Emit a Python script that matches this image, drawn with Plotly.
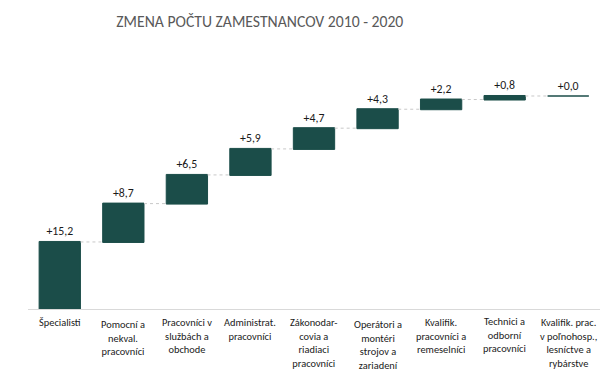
import plotly.graph_objects as go
import numpy as np

categories = ["Špecialisti", "Pomocní a<br>nekval.<br>pracovníci", "Pracovníci v<br>službách a<br>obchode",
              "Administrat.<br>pracovníci", "Zákonodar-<br>covia a<br>riadiaci<br>pracovníci",
              "Operátori a<br>montéri<br>strojov a<br>zariadení", "Kvalifik.<br>pracovníci a<br>remeselníci",
              "Technici a<br>odborní<br>pracovníci", "Kvalifik. prac.<br>v poľnohosp.,<br>lesníctve a<br>rybárstve"]
values = [15.2, 8.7, 6.5, 5.9, 4.7, 4.3, 2.2, 0.8, 0.0]
label_shift = [0, -2, 0, 0, 0, -2, 0, 1, 0]

FONT = "Carlito, Lato, sans-serif"
BAR_W = 0.65
COLOR = "#1B4D49"
x = list(range(len(values)))
labels = ["+" + f"{v:.1f}".replace(".", ",") for v in values]
cum = np.cumsum(values)

fig = go.Figure(go.Waterfall(
    x=x, y=values, measure=["relative"] * len(values),
    increasing=dict(marker=dict(color=COLOR, line=dict(color=COLOR, width=1))),
    connector=dict(line=dict(color="#C8C8C8", width=1, dash="dot")),
    text=labels, texttemplate="%{text}", textposition="outside",
    textfont=dict(family=FONT, size=11.8, color="#1a1a1a"),
    width=BAR_W, cliponaxis=False, hoverinfo="skip",
))

# zero-height bars are not drawn by plotly; draw them as thin lines
for i, v in enumerate(values):
    if v == 0:
        fig.add_trace(go.Scatter(x=[i - BAR_W / 2, i + BAR_W / 2], y=[cum[i], cum[i]], mode="lines",
                                 line=dict(color=COLOR, width=1.5), hoverinfo="skip"))

for i, (c, s) in enumerate(zip(categories, label_shift)):
    fig.add_annotation(x=i, y=0, xref="x", yref="y", text=c, showarrow=False,
                       yanchor="top", yshift=-5 + s, font=dict(family=FONT, size=10.4, color="#1a1a1a"))

fig.update_layout(
    width=607, height=372,
    margin=dict(l=28, r=7, t=60, b=63),
    paper_bgcolor="white", plot_bgcolor="white",
    showlegend=False,
    title=dict(text="ZMENA POČTU ZAMESTNANCOV 2010 - 2020", x=0.428, xanchor="center", y=0.942, yanchor="middle",
               font=dict(family=FONT, size=15.7, color="#595959")),
    xaxis=dict(range=[-0.5, 8.5], showticklabels=False, showgrid=False, zeroline=False,
               showline=True, linecolor="#D9D9D9", linewidth=1, ticks=""),
    yaxis=dict(range=[0, 56.46], visible=False, showgrid=False, zeroline=False),
)

fig.write_html("out.html", config={"displayModeBar": False},
               post_script="document.body.style.margin='0';")
